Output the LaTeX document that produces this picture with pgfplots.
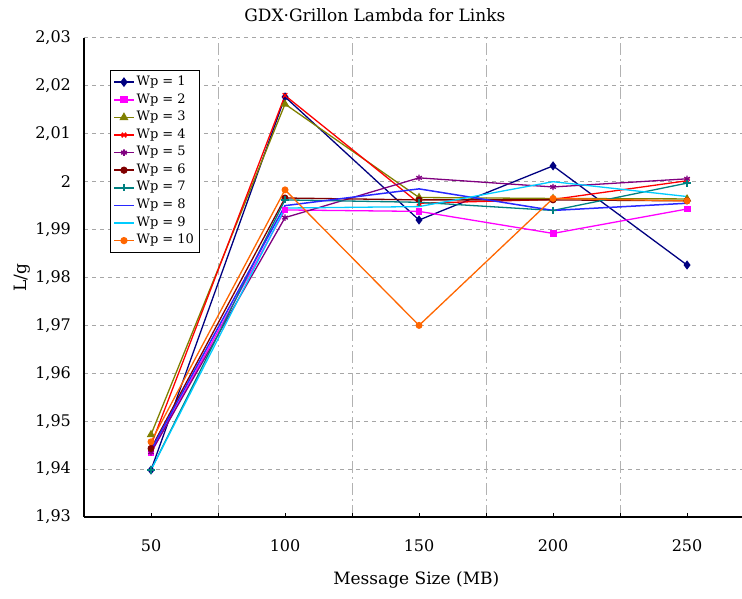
\documentclass[border=0pt]{standalone}
\usepackage{fontspec}
\setmainfont{DejaVu Serif}
\usepackage{pgfplots}
\pgfplotsset{compat=1.18}
\definecolor{wpa}{RGB}{0,0,128}
\definecolor{wpb}{RGB}{255,0,255}
\definecolor{wpc}{RGB}{128,128,0}
\definecolor{wpd}{RGB}{255,0,0}
\definecolor{wpe}{RGB}{128,0,128}
\definecolor{wpf}{RGB}{128,0,0}
\definecolor{wpg}{RGB}{0,128,128}
\definecolor{wph}{RGB}{40,40,255}
\definecolor{wpi}{RGB}{0,204,255}
\definecolor{wpj}{RGB}{255,102,0}
\begin{document}
\begin{tikzpicture}
\path[use as bounding box] (0,0) rectangle (371pt,299pt);
\begin{axis}[
  at={(42pt,40.5pt)}, anchor=south west,
  scale only axis, width=329pt, height=239.5pt,
  xmin=25, xmax=270.5, ymin=1.93, ymax=2.03,
  axis x line*=bottom, axis y line*=left,
  axis line style={black, line width=0.6pt},
  xtick={50,100,150,200,250},
  extra x ticks={75,125,175,225},
  extra x tick labels={},
  extra x tick style={grid=major, major grid style={gray!60, dash pattern=on 6pt off 2pt on 1pt off 2pt, line width=0.5pt}, tick style={black}},
  xtick style={black, line width=0.5pt},
  tick align=inside,
  ytick={1.93,1.94,1.95,1.96,1.97,1.98,1.99,2.00,2.01,2.02,2.03},
  ymajorgrids, major grid style={gray!70, dash pattern=on 2pt off 2pt, line width=0.5pt},
  ytick style={draw=none},
  major tick length=2pt,
  /pgf/number format/assume math mode=true,
  yticklabel style={/pgf/number format/.cd, use comma, fixed, precision=2, /tikz/.cd, font=\fontsize{8}{9}\selectfont, xshift=-3pt},
  xticklabel style={font=\fontsize{8}{9}\selectfont, yshift=-8pt},
  every axis title shift=0pt,
  title={GDX·Grillon Lambda for Links},
  title style={at={(axis description cs:0.442,1.048)}, anchor=center, font=\fontsize{8.5}{10}\selectfont},
  xlabel={Message Size (MB)},
  xlabel style={at={(axis description cs:0.505,-0.1315)}, anchor=center, font=\fontsize{8.5}{10}\selectfont},
  ylabel={L/g},
  ylabel style={at={(axis description cs:-0.094,0.5)}, anchor=center, rotate=0, font=\fontsize{8.5}{10}\selectfont},
  legend style={at={(axis description cs:0.0395,0.933)}, anchor=north west, font=\fontsize{6.5}{7.5}\selectfont, draw=black, line width=0.5pt, row sep=0.3pt, inner sep=1.5pt, nodes={inner sep=1.1pt}, cells={anchor=west}},
  legend cell align=left,
  legend image code/.code={\draw[mark repeat=2,mark phase=2,line width=0.8pt] plot coordinates {(0cm,0cm) (0.17cm,0cm) (0.34cm,0cm)};},
  every axis plot/.append style={line width=0.65pt},
]
\addplot[color=wpa, mark=diamond*, mark size=1.8pt] coordinates {(50,1.9398) (100,2.0177) (150,1.9920) (200,2.0033) (250,1.9826)};
\addlegendentry{Wp = 1}
\addplot[color=wpb, mark=square*, mark size=1.4pt] coordinates {(50,1.9434) (100,1.9941) (150,1.9938) (200,1.9892) (250,1.9943)};
\addlegendentry{Wp = 2}
\addplot[color=wpc, mark=triangle*, mark size=1.8pt] coordinates {(50,1.9472) (100,2.0162) (150,1.9967) (200,1.9965) (250,1.9964)};
\addlegendentry{Wp = 3}
\addplot[color=wpd, mark=x, mark size=1.6pt] coordinates {(50,1.9450) (100,2.0180) (150,1.9955) (200,1.9963) (250,2.0002)};
\addlegendentry{Wp = 4}
\addplot[color=wpe, mark=asterisk, mark size=1.6pt] coordinates {(50,1.9435) (100,1.9925) (150,2.0008) (200,1.9989) (250,2.0006)};
\addlegendentry{Wp = 5}
\addplot[color=wpf, mark=*, mark size=1.4pt] coordinates {(50,1.9443) (100,1.9966) (150,1.9962) (200,1.9962) (250,1.9960)};
\addlegendentry{Wp = 6}
\addplot[color=wpg, mark=+, mark size=1.8pt] coordinates {(50,1.9398) (100,1.9962) (150,1.9957) (200,1.9940) (250,1.9997)};
\addlegendentry{Wp = 7}
\addplot[draw=wph, line width=0.75pt, mark=none] coordinates {(50,1.9440) (100,1.9950) (150,1.9985) (200,1.9940) (250,1.9955)};
\addlegendentry{Wp = 8}
\addplot[draw=wpi, mark=none] coordinates {(50,1.9398) (100,1.9945) (150,1.9948) (200,2.0000) (250,1.9969)};
\addlegendentry{Wp = 9}
\addplot[color=wpj, mark=*, mark size=1.4pt] coordinates {(50,1.9457) (100,1.9983) (150,1.9700) (200,1.9965) (250,1.9960)};
\addlegendentry{Wp = 10}
\end{axis}
\end{tikzpicture}
\end{document}
